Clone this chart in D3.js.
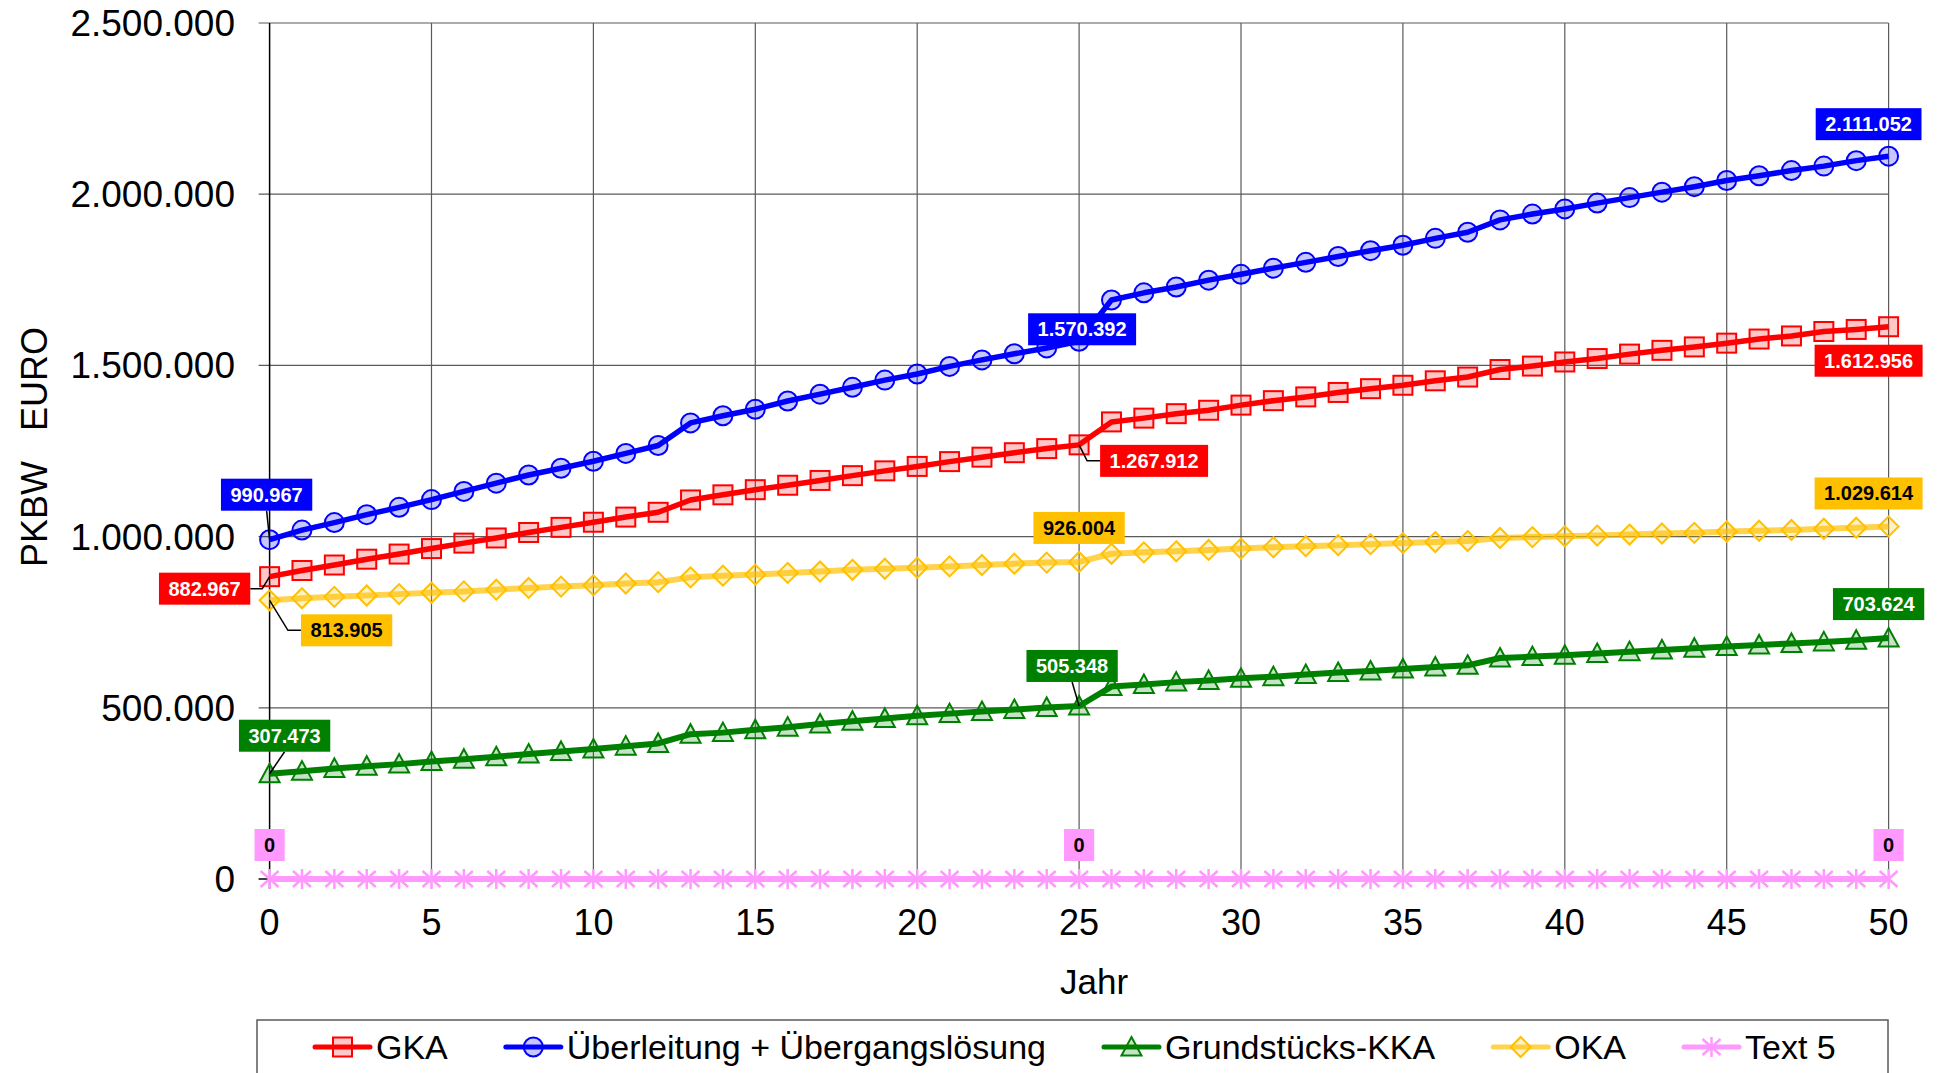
<!DOCTYPE html>
<html>
<head>
<meta charset="utf-8">
<script src="https://cdn.jsdelivr.net/npm/d3@7"></script>
<style>
  body { margin: 0; background: #fff; }
  text { font-family: "Liberation Sans", Arial, sans-serif; }
</style>
</head>
<body>
<svg id="chart" width="1939" height="1073"></svg>
<script>
// ---- data ----
const years = d3.range(0, 51);

const gka = [882967, 901000, 917000, 934000, 949000, 965000, 981000, 996000, 1012000, 1027000,
  1042000, 1057000, 1071000, 1107000, 1122000, 1137000, 1150000, 1164000, 1178000, 1192000,
  1205000, 1219000, 1232000, 1245000, 1257000, 1267912, 1335000, 1346000, 1359000, 1369000,
  1384000, 1397000, 1408000, 1421000, 1432000, 1442000, 1455000, 1466000, 1488000, 1498000,
  1510000, 1520000, 1533000, 1544000, 1554000, 1565000, 1577000, 1586000, 1599000, 1605000,
  1612956];

const ueberleitung = [990967, 1019000, 1041000, 1064000, 1085500, 1108000, 1132000, 1156000, 1180000, 1199500,
  1220000, 1243000, 1266000, 1332000, 1353000, 1372000, 1396000, 1416000, 1436000, 1457000,
  1475000, 1497000, 1516000, 1534000, 1551000, 1570392, 1691000, 1712000, 1729000, 1749000,
  1766000, 1784000, 1801000, 1818000, 1835000, 1851000, 1871000, 1889000, 1925000, 1942000,
  1957000, 1974000, 1990000, 2006000, 2022000, 2040000, 2054000, 2069000, 2082000, 2098000,
  2111052];

const grundstuecksKka = [307473, 315000, 323000, 329500, 335500, 343000, 350000, 357000, 365000, 372500,
  379500, 388000, 396000, 423000, 427500, 436000, 443500, 452500, 461000, 469000,
  477000, 483000, 489000, 495000, 501000, 505348, 562000, 568000, 575000, 580000,
  586000, 591000, 597000, 603000, 607500, 613500, 619000, 624000, 645500, 649500,
  653500, 658500, 664000, 669000, 674000, 679000, 683500, 688000, 692500, 697500,
  703624];

const oka = [813905, 820000, 824000, 828000, 832000, 836000, 840000, 845000, 850000, 854000,
  858000, 863000, 867000, 881000, 886000, 889000, 894000, 898000, 903000, 906000,
  909000, 913000, 917000, 921000, 924000, 926004, 950000, 954000, 957000, 961000,
  965000, 969000, 972000, 975000, 978000, 981000, 984000, 987000, 996000, 998500,
  1001000, 1003000, 1006000, 1009000, 1011000, 1015000, 1017000, 1019500, 1023000, 1026000,
  1029614];

const text5 = [0, 0, 0, 0, 0, 0, 0, 0, 0, 0, 0, 0, 0, 0, 0, 0, 0, 0, 0, 0, 0, 0, 0, 0, 0,
  0, 0, 0, 0, 0, 0, 0, 0, 0, 0, 0, 0, 0, 0, 0, 0, 0, 0, 0, 0, 0, 0, 0, 0, 0, 0];

const seriesNames = ["GKA", "Überleitung + Übergangslösung", "Grundstücks-KKA", "OKA", "Text 5"];
const seriesValues = [gka, ueberleitung, grundstuecksKka, oka, text5];
const labelYears = [0, 25, 50];
const yTicks = [0, 500000, 1000000, 1500000, 2000000, 2500000];
const xTicks = [0, 5, 10, 15, 20, 25, 30, 35, 40, 45, 50];

// ---- styles ----
const styles = [
  { line: "#FF0000", lineOp: 1, width: 5.5, mark: "#FF0000", shape: "square", box: "#FF0000", txt: "#fff" },
  { line: "#0000FF", lineOp: 1, width: 5.5, mark: "#0000FF", shape: "circle", box: "#0000FF", txt: "#fff" },
  { line: "#008000", lineOp: 1, width: 6, mark: "#008000", shape: "triangle", box: "#008000", txt: "#fff" },
  { line: "#FFC000", lineOp: 0.7, width: 6, mark: "#FFC000", shape: "diamond", box: "#FFC000", txt: "#000" },
  { line: "#FF99FF", lineOp: 1, width: 6, mark: "#FF99FF", shape: "star", box: "#FF99FF", txt: "#000" }
];

// label placement: offset of box centre from the point, leader type
const labelLayout = [
  [{ dx: -65, dy: 12, lead: "elbowL" }, { dx: 75, dy: 16, lead: "elbowR" }, { dx: -20, dy: 34, lead: "none" }],
  [{ dx: -3, dy: -45, lead: "v" }, { dx: 3, dy: -12, lead: "none" }, { dx: -20, dy: -32, lead: "none" }],
  [{ dx: 15, dy: -38, lead: "v" }, { dx: -7, dy: -40, lead: "v" }, { dx: -10, dy: -34, lead: "none" }],
  [{ dx: 77, dy: 30, lead: "elbowR" }, { dx: 0, dy: -34, lead: "none" }, { dx: -20, dy: -33, lead: "none" }],
  [{ dx: 0, dy: -34, lead: "none" }, { dx: 0, dy: -34, lead: "none" }, { dx: 0, dy: -34, lead: "none" }]
];

const de = d3.formatLocale({ decimal: ",", thousands: ".", grouping: [3], currency: ["", " €"] });
const fmt = de.format(",.0f");

const svg = d3.select("#chart");
const x = d3.scaleLinear().domain([0, 50]).range([269.6, 1888.6]);
const y = d3.scaleLinear().domain([0, 2500000]).range([879, 23]);

// grid
const grid = svg.append("g").attr("stroke", "#5a5a5a").attr("stroke-width", 1.2);
grid.selectAll("line.h").data(yTicks.filter(d => d > 0)).enter().append("line")
  .attr("x1", x(0) - 11).attr("x2", x(50)).attr("y1", d => y(d)).attr("y2", d => y(d));
grid.selectAll("line.v").data(xTicks.filter(d => d > 0)).enter().append("line")
  .attr("x1", d => x(d)).attr("x2", d => x(d)).attr("y1", y(2500000)).attr("y2", y(0) + 10);

// axes
svg.append("line").attr("x1", x(0)).attr("x2", x(0)).attr("y1", y(2500000)).attr("y2", y(0) + 10)
  .attr("stroke", "#000").attr("stroke-width", 1.5);
svg.append("line").attr("x1", x(0) - 11).attr("x2", x(50)).attr("y1", y(0)).attr("y2", y(0))
  .attr("stroke", "#000").attr("stroke-width", 1.5);

svg.selectAll("text.ytick").data(yTicks).enter().append("text")
  .attr("x", 235).attr("y", d => y(d) + 13).attr("text-anchor", "end")
  .attr("font-size", 37).text(d => fmt(d));
svg.selectAll("text.xtick").data(xTicks).enter().append("text")
  .attr("x", d => x(d)).attr("y", 935).attr("text-anchor", "middle")
  .attr("font-size", 36).text(d => d);

svg.append("text").attr("transform", "translate(47,447) rotate(-90)")
  .attr("text-anchor", "middle").attr("font-size", 36).attr("xml:space", "preserve")
  .style("white-space", "pre").text("PKBW   EURO");
svg.append("text").attr("x", 1094).attr("y", 994).attr("text-anchor", "middle")
  .attr("font-size", 35).text("Jahr");

// markers
function drawMarker(g, shape, color) {
  if (shape === "circle") {
    g.append("circle").attr("r", 9.5).attr("fill", color).attr("fill-opacity", 0.22)
      .attr("stroke", color).attr("stroke-width", 2);
  } else if (shape === "square") {
    g.append("rect").attr("x", -9.5).attr("y", -9.5).attr("width", 19).attr("height", 19)
      .attr("fill", color).attr("fill-opacity", 0.22).attr("stroke", color).attr("stroke-width", 2);
  } else if (shape === "triangle") {
    g.append("path").attr("d", "M0,-10L10,8.5L-10,8.5Z").attr("fill", color).attr("fill-opacity", 0.22)
      .attr("stroke", color).attr("stroke-width", 2);
  } else if (shape === "diamond") {
    g.append("path").attr("d", "M0,-10L10,0L0,10L-10,0Z").attr("fill", color).attr("fill-opacity", 0.22)
      .attr("stroke", color).attr("stroke-width", 2);
  } else {
    g.append("path").attr("d", "M0,-10V10M-9,-8L9,8M-9,8L9,-8").attr("fill", "none")
      .attr("stroke", color).attr("stroke-width", 2.5);
  }
}

const line = d3.line().x((d, i) => x(years[i])).y(d => y(d));

seriesValues.forEach((vals, s) => {
  const st = styles[s];
  svg.append("path").datum(vals).attr("d", line).attr("fill", "none")
    .attr("stroke", st.line).attr("stroke-opacity", st.lineOp).attr("stroke-width", st.width)
    .attr("stroke-linejoin", "round");
  vals.forEach((v, i) => {
    const g = svg.append("g").attr("transform", `translate(${x(years[i])},${y(v)})`);
    drawMarker(g, st.shape, st.mark);
  });
});

// data labels
seriesValues.forEach((vals, s) => {
  const st = styles[s];
  labelYears.forEach((yr, k) => {
    const lay = labelLayout[s][k];
    const px = x(yr), py = y(vals[yr]);
    const cx = px + lay.dx, cy = py + lay.dy;
    const g = svg.append("g");
    const t = g.append("text").attr("x", cx).attr("y", cy + 7).attr("text-anchor", "middle")
      .attr("font-size", 20).attr("font-weight", "bold").attr("fill", st.txt).text(fmt(vals[yr]));
    const w = t.node().getComputedTextLength() + 19;
    const h = 32;
    if (lay.lead === "v") {
      g.insert("line", "text").attr("x1", cx).attr("y1", cy + h / 2).attr("x2", px).attr("y2", py)
        .attr("stroke", "#000").attr("stroke-width", 1.5);
    } else if (lay.lead === "elbowL") {
      g.insert("polyline", "text").attr("points", [[cx + w / 2, cy], [cx + w / 2 + 12, cy], [px, py]].join(" "))
        .attr("fill", "none").attr("stroke", "#000").attr("stroke-width", 1.5);
    } else if (lay.lead === "elbowR") {
      g.insert("polyline", "text").attr("points", [[cx - w / 2, cy], [cx - w / 2 - 13, cy], [px, py]].join(" "))
        .attr("fill", "none").attr("stroke", "#000").attr("stroke-width", 1.5);
    }
    g.insert("rect", "text").attr("x", cx - w / 2).attr("y", cy - h / 2).attr("width", w).attr("height", h)
      .attr("fill", st.box);
  });
});

// legend
svg.append("rect").attr("x", 257).attr("y", 1020).attr("width", 1631).attr("height", 80)
  .attr("fill", "#fff").attr("stroke", "#5a5a5a").attr("stroke-width", 1.5);
let lx = 315;
const ly = 1047;
seriesNames.forEach((name, s) => {
  const st = styles[s];
  svg.append("line").attr("x1", lx).attr("x2", lx + 55).attr("y1", ly).attr("y2", ly)
    .attr("stroke", st.line).attr("stroke-opacity", st.lineOp).attr("stroke-width", 5)
    .attr("stroke-linecap", "round");
  const g = svg.append("g").attr("transform", `translate(${lx + 27.5},${ly})`);
  drawMarker(g, st.shape, st.mark);
  const t = svg.append("text").attr("x", lx + 61).attr("y", 1059).attr("font-size", 34).text(name);
  lx = lx + 61 + t.node().getComputedTextLength() + 58;
});
</script>
</body>
</html>
